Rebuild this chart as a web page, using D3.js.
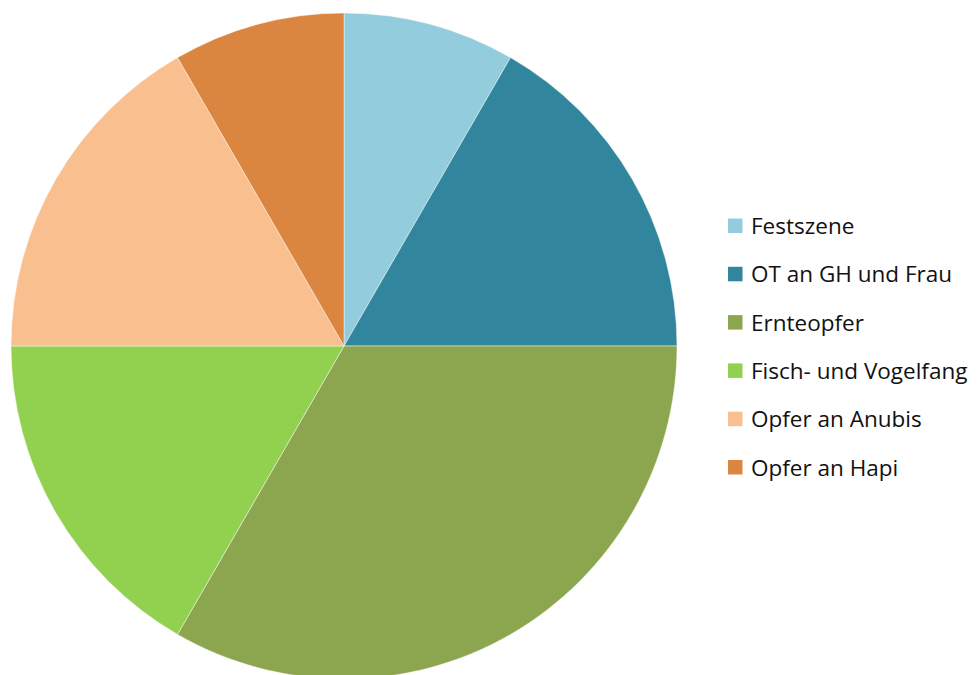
<!DOCTYPE html>
<html>
<head>
<meta charset="utf-8">
<script src="https://cdn.jsdelivr.net/npm/d3@7"></script>
<style>
  html, body { margin: 0; padding: 0; background: #fff; }
  svg { display: block; }
</style>
</head>
<body>
<svg id="chart" width="978" height="675"></svg>
<script>
// Scene categories and their counts
const categories = ["Festszene", "OT an GH und Frau", "Ernteopfer", "Fisch- und Vogelfang", "Opfer an Anubis", "Opfer an Hapi"];
const values = [1, 2, 4, 2, 2, 1];
const colors = ["#93CDDD", "#31859C", "#8BA64F", "#92D050", "#F9BF8F", "#DA8640"];

const svg = d3.select("#chart");
const cx = 344, cy = 346, radius = 333;

const data = categories.map((c, i) => ({ name: c, value: values[i], color: colors[i] }));

const pie = d3.pie().value(d => d.value).sort(null);
const arc = d3.arc().innerRadius(0).outerRadius(radius);

const g = svg.append("g").attr("transform", `translate(${cx},${cy})`);
g.selectAll("path")
  .data(pie(data))
  .join("path")
  .attr("d", arc)
  .attr("fill", d => d.data.color)
  .attr("stroke", "#ffffff")
  .attr("stroke-opacity", 0.6)
  .attr("stroke-width", 0.75);

// Legend
const legend = svg.append("g").attr("transform", "translate(728,218.5)");
const rowH = 48.3;
const items = legend.selectAll("g")
  .data(data)
  .join("g")
  .attr("transform", (d, i) => `translate(0,${i * rowH})`);
items.append("rect")
  .attr("width", 14.5).attr("height", 14.5)
  .attr("fill", d => d.color);
items.append("text")
  .attr("x", 23).attr("y", 15.5)
  .attr("font-family", "'Open Sans', 'Noto Sans', sans-serif")
  .attr("font-size", 22.5)
  .attr("fill", "#111")
  .text(d => d.name);
</script>
</body>
</html>
